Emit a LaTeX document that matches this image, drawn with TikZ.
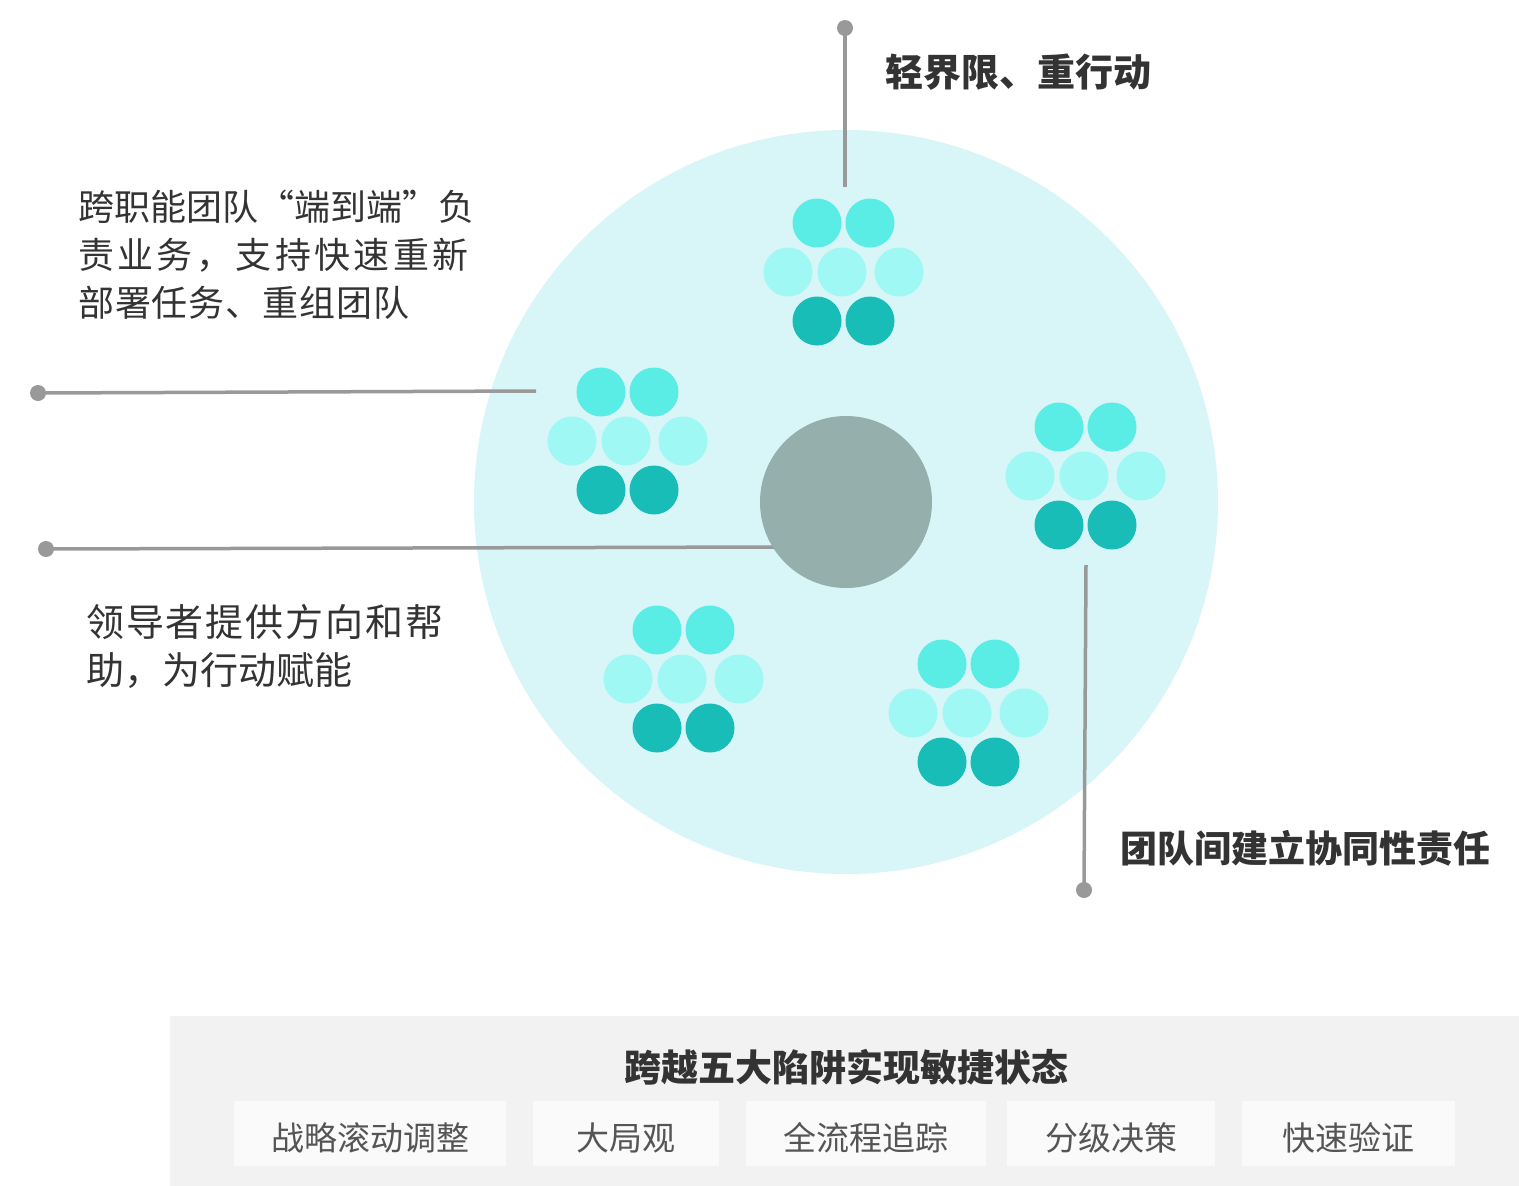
\documentclass[tikz,border=0pt]{standalone}
\usepackage{fontspec}
\setmainfont{Noto Sans CJK SC}
\usepackage{tikz}
\definecolor{fieldblue}{HTML}{D8F5F8}
\definecolor{hubgray}{HTML}{95AFAD}
\definecolor{tealtop}{HTML}{5AEDE6}
\definecolor{tealmid}{HTML}{9FF8F3}
\definecolor{tealbot}{HTML}{19BDB8}
\definecolor{leadgray}{HTML}{999999}
\definecolor{inkdark}{HTML}{333333}
\definecolor{inkbox}{HTML}{555555}
\definecolor{panelgray}{HTML}{F2F2F2}
\definecolor{chipwhite}{HTML}{FAFAFA}

\newcommand{\spaced}[2]{{\addfontfeatures{LetterSpace=#1}#2}}

\tikzset{
  bubble/.style={circle,inner sep=0pt,minimum size=49pt},
  enddot/.style={circle,fill=leadgray,inner sep=0pt,minimum size=16pt},
  leadline/.style={draw=leadgray,line width=3.5pt},
  tagtext/.style={inner sep=0pt,text=inkdark,align=left},
  chip/.style={fill=chipwhite,minimum height=65pt,inner sep=0pt,text height=38pt,text depth=4pt,
    text=inkbox,font=\fontsize{33}{33}\selectfont},
}

\begin{document}
\begin{tikzpicture}[x=1pt,y=-1pt]
        \useasboundingbox (0,0) rectangle (1519,1186);

        \coordinate (c0) at (846,502);
        \coordinate (ca) at (842,272);
        \coordinate (cb) at (626,441);
        \coordinate (cc) at (1084,476);
        \coordinate (cd) at (682,679);
        \coordinate (ce) at (967,713);

        \node[circle,fill=fieldblue,minimum size=744pt] (field) at (c0){};

        % teams
        \foreach \c in {ca,cb,cc,cd,ce}{
            \node[bubble,fill=tealtop] (\c-1) at ([shift={(-25,-49)}]\c){};
            \node[bubble,fill=tealtop] (\c-2) at ([shift={(28,-49)}]\c){};
            \node[bubble,fill=tealmid] (\c-3) at ([shift={(-54,0)}]\c){};
            \node[bubble,fill=tealmid] (\c-4) at (\c){};
            \node[bubble,fill=tealmid] (\c-5) at ([shift={(57,0)}]\c){};
            \node[bubble,fill=tealbot] (\c-6) at ([shift={(-25,49)}]\c){};
            \node[bubble,fill=tealbot] (\c-7) at ([shift={(28,49)}]\c){};
        }

        % leader lines
        \coordinate (e1) at (845,187);
        \coordinate (e2) at (536,391);
        \coordinate (e3) at (775,547);
        \coordinate (e4) at (1086,565);
        \node[enddot] (d1) at (845,28){};
        \node[enddot] (d2) at (38,393){};
        \node[enddot] (d3) at (46,549){};
        \node[enddot] (d4) at (1084,890){};
        \draw[leadline] (d1.center) -- (e1);
        \draw[leadline] (d2.center) -- (e2);
        \draw[leadline] (d3.center) -- (e3);
        \draw[leadline] (e4) -- (d4.center);

        \node[circle,fill=hubgray,minimum size=172pt] (hub) at (c0){};

        \node[tagtext,anchor=west,font=\bfseries\fontsize{38}{38}\selectfont] (t1) at (885,72) {轻界限、重行动};
        \node[tagtext,anchor=north west,font=\fontsize{36}{48}\selectfont] (t2) at (78,190)
            {跨职能团队“端到端”负\\\spaced{9.4}{责业务，支持快速重新}\\\spaced{2.5}{部署任务、重组团队}};
        \node[tagtext,anchor=north west,font=\fontsize{38}{48}\selectfont] (t3) at (86,604)
            {\spaced{5}{领导者提供方向和帮}\\助，为行动赋能};
        \node[tagtext,anchor=west,font=\bfseries\fontsize{37}{37}\selectfont] (t4) at (1120,848) {团队间建立协同性责任};

        % bottom panel
        \node[fill=panelgray,minimum width=1349pt,minimum height=170pt,inner sep=0pt] (base) at (844.5,1101){};
        \node[tagtext,font=\bfseries\fontsize{37}{37}\selectfont] (title) at (846,1067) {跨越五大陷阱实现敏捷状态};
        \node[chip,minimum width=272pt] (p1) at (370,1133.5) {战略滚动调整};
        \node[chip,minimum width=186pt] (p2) at (626,1133.5) {大局观};
        \node[chip,minimum width=240pt] (p3) at (866,1133.5) {全流程追踪};
        \node[chip,minimum width=208pt] (p4) at (1111,1133.5) {分级决策};
        \node[chip,minimum width=213pt] (p5) at (1348.5,1133.5) {快速验证};
\end{tikzpicture}
\end{document}
